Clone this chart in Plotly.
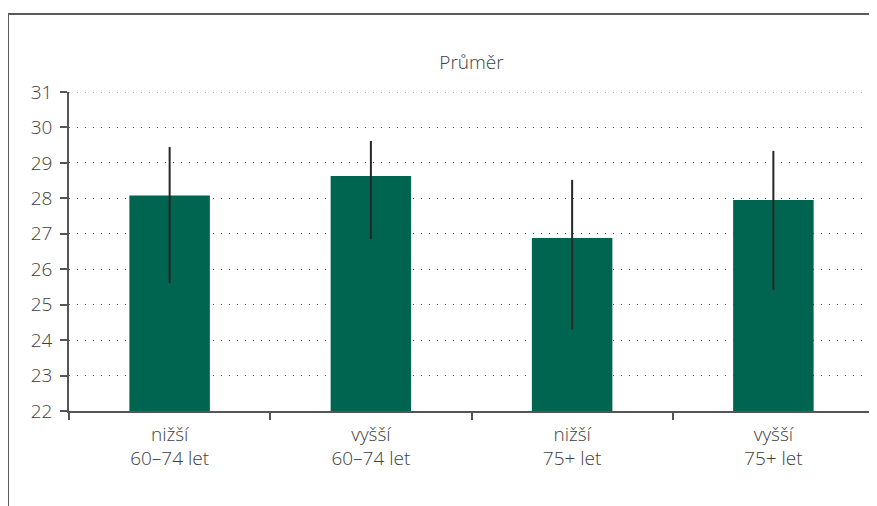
import plotly.graph_objects as go

categories = ["nižší<br>60–74 let", "vyšší<br>60–74 let", "nižší<br>75+ let", "vyšší<br>75+ let"]
means = [28.08, 28.63, 26.88, 27.95]
upper = [29.45, 29.62, 28.52, 29.34]
lower = [25.61, 26.85, 24.30, 25.41]
y_ticks = list(range(22, 32))
title_text = "Průměr"

err_plus = [u - m for u, m in zip(upper, means)]
err_minus = [m - l for m, l in zip(means, lower)]

FONT = "Open Sans"
TXT = "#404040"
AX = "#555555"

fig = go.Figure(go.Bar(
    x=categories, y=means, width=0.4,
    marker=dict(color="#006550", line=dict(width=0)),
    error_y=dict(type="data", symmetric=False, array=err_plus, arrayminus=err_minus,
                 color="#262626", thickness=2, width=0),
))

# The page body has an 8px margin, so the figure is 8px smaller and margins shifted
fig.update_layout(
    width=869, height=498,
    margin=dict(l=61, r=3, t=84, b=95),
    paper_bgcolor="white", plot_bgcolor="white",
    font=dict(family=FONT, size=19, color=TXT, weight=300),
    showlegend=False,
    title=dict(text=title_text, x=0.5, xref="paper", y=1 - 54/498, yref="container",
               xanchor="center", yanchor="middle",
               font=dict(family=FONT, size=19, color=TXT, weight=300)),
    bargap=0.6,
)
fig.update_xaxes(
    showline=True, linecolor=AX, linewidth=1.5,
    ticks="outside", ticklen=7, tickcolor=AX, tickwidth=1.5, tickson="boundaries",
    showgrid=False, tickfont=dict(family=FONT, size=19, color=TXT, weight=300),
    ticklabelstandoff=5,
)
fig.update_yaxes(
    range=[y_ticks[0], y_ticks[-1]], tickvals=y_ticks, showline=True, linecolor=AX, linewidth=1.5,
    ticks="outside", ticklen=7, tickcolor=AX, tickwidth=1.5,
    showgrid=True, gridcolor="#555555", gridwidth=1, griddash="1px,7px",
    zeroline=False, tickfont=dict(family=FONT, size=19, color=TXT, weight=300),
    ticklabelstandoff=4,
)
# top gridline (plotly clips gridlines lying on the plot edge)
fig.add_shape(type="line", xref="paper", yref="y", layer="below",
              x0=0, x1=1, y0=y_ticks[-1], y1=y_ticks[-1],
              line=dict(color="#555555", width=1, dash="1px,7px"))
fig.add_shape(type="line", xref="paper", yref="paper",
              x0=-61/805, x1=1 + 3/805, y0=1 + 78/319, y1=1 + 78/319,
              line=dict(color="#5a5a5a", width=2))
fig.add_shape(type="line", xref="paper", yref="paper",
              x0=-61/805, x1=-61/805, y0=1 + 78/319, y1=-95/319,
              line=dict(color="#5a5a5a", width=2))
fig.write_html("out.html")
